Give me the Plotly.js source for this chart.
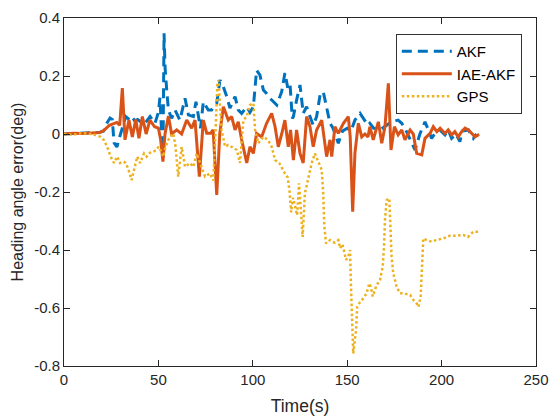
<!DOCTYPE html>
<html>
<head>
<meta charset="utf-8">
<script src="https://cdn.plot.ly/plotly-3.0.1.min.js"></script>
<style>html,body{margin:0;padding:0;background:#fff;}#chart{width:551px;height:416px;}</style>
</head>
<body>
<div id="chart"></div>
<script>
// ---- Data ----
var akfT = [0,5,10,15,19,21,22.5,24.4,25.6,26.5,28,29.5,31,32.7,34.5,36,37.5,39,41,42.9,45.6,48.2,50,50.8,51.6,52.4,53,53.5,54.4,55.3,57,58.8,61.4,64.1,65.9,68.5,69.9,71.2,72.3,73.8,76.4,78.2,80.9,82.6,84.4,86.2,87.9,90.6,92.3,94.1,96.8,98.5,100.3,102,103.8,105.6,107.3,109.1,110.9,112.7,115.3,117,118.5,119.7,120.9,121.5,123.2,125,126.7,128.5,130.3,132,133.8,135.6,137.3,139.1,140.9,142.5,145.3,147.5,150,152,154.1,156.8,159,161,162,164,167.4,170,173,177,178.9,181,184.1,185.9,188.5,191.2,193,194.7,196.5,198,199,201.8,203.5,205.3,207.5,209.7,211,214.2,216.8,218.5];
var akfV = [0,0.002,0.003,0.005,0.006,0.01,0.035,0.055,0.05,-0.03,-0.045,-0.01,0.02,0.06,0.05,0.06,0.045,0.05,0.04,0.037,0.06,0.037,0.075,0.125,0.02,-0.08,0.347,0.232,0.152,0.083,0.054,0.083,0.048,0.123,0.066,0.06,0.111,0.06,0.02,0.111,0.083,0.083,0.106,0.186,0.163,0.129,0.089,0.129,0.083,0.071,0.094,0.075,0.094,0.22,0.203,0.152,0.14,0.123,0.111,0.1,0.146,0.21,0.16,0.175,0.054,0.06,0.117,0.169,0.071,0.094,0.06,0.03,0.06,0.134,0.146,0.094,0.037,0.02,-0.032,0.01,0.02,0.01,0.048,0.071,0.048,0.03,0.037,0.02,0.014,0.025,0.04,0.048,0.037,0.014,-0.032,-0.055,0,0.042,0.014,-0.015,0.002,0.01,0.014,-0.003,0.014,-0.015,0,-0.026,0.01,0.014,-0.015,0];

var iaeT = [0,5,10,15,19,21,22.5,24,26,28,29.5,30.9,32.3,33.3,34.4,36.2,38,39.7,41.5,43.5,45.5,48,50,51.2,52.4,53.5,55.3,57,59.7,62.3,65,67.6,69.4,71.7,73.8,75.6,77.7,79,80.9,82.5,84.4,87,88.8,90.6,92.3,94.1,96.8,98.5,100.3,102,104.7,107.3,110,111.8,113.5,115.3,117,118.8,120,121.5,123.2,125,126.7,128.5,130.3,132,133.8,136.5,139.1,140.9,141.8,143.5,145.3,148,150.6,151.6,152.9,154.1,155.9,157.7,159.4,161,162,163.8,166.5,168.3,170,171.8,173.2,175,177,178.9,180.6,183.3,185,186.8,189.5,191.2,193.9,195.6,197.5,199.2,201.8,203.5,205.3,207,208.8,210.6,212.4,214.2,216,217.7,219.4,220];
var iaeV = [0,0.003,0.002,0.004,0.005,0.012,0.02,0.03,0.035,0.04,0.03,0.158,-0.02,0.01,0.048,-0.01,0.05,-0.015,0.06,0,0.048,0.025,0.02,-0.02,-0.095,0,0.062,0,0.014,0,0.048,0.02,0.048,-0.147,0.048,0.003,0.003,0.014,-0.21,0,0.094,0.048,0.06,0.014,0.042,-0.02,-0.1,-0.044,-0.067,0.002,-0.01,0.037,0.071,0.025,-0.044,0,0.048,-0.044,0.014,-0.09,0.014,-0.067,-0.1,0.06,0.025,-0.044,0.014,0.048,-0.078,-0.02,-0.078,0.025,0.002,0.037,0.06,-0.01,-0.268,-0.066,0.037,-0.01,0,-0.01,0.025,-0.02,0.042,-0.032,0.025,0.175,-0.055,0.025,-0.003,0.014,-0.02,0.014,0,-0.067,-0.072,-0.015,0.002,0.025,0.008,0.02,0.002,0.014,-0.003,0.008,-0.01,0.008,0.02,0.014,0.002,-0.01,-0.003,-0.002];

var gpsT = [0,5,10,15,19.4,21,22.9,24.7,26.5,28.2,29.7,31.5,32.7,34,35.8,37,38.8,40.3,42.4,43.8,45.5,47.3,49.1,50,51.5,52.6,53.5,55.3,57.9,59,60.5,62.3,64.1,66.7,68.5,70.3,72,74.7,77.3,79.1,80.5,81.2,81.8,82.6,83.5,85.3,87,89,91.5,93.2,95,96.8,98.5,100.3,101.2,102.9,105.6,108,110,111.8,114,117,118.5,119.5,120.3,121.3,122.5,123.5,124.5,125.5,126.4,127.6,129.4,131.2,132.9,134.5,136.5,137.3,137.9,138.8,140.9,141.8,143.5,145.3,146.2,147.5,149.4,150.6,151.5,151.9,152.4,153.2,154.7,155.3,156.8,158.5,160.3,161.7,162.5,163.5,165.6,167.4,168.8,169.5,170,170.9,172.3,173,173.5,174.4,176.2,178,180.5,183.3,185,186.5,187.7,188.9,189.6,190.3,192.1,194.7,197,200.9,204.4,208,211.5,214,216.8,219.4];
var gpsV = [0,-0.002,0.003,0,-0.01,-0.02,-0.044,-0.078,-0.1,-0.078,-0.1,-0.095,-0.1,-0.12,-0.159,-0.13,-0.078,-0.1,-0.067,-0.078,-0.065,-0.061,-0.055,-0.044,-0.06,-0.078,-0.05,-0.02,0.002,-0.04,-0.147,-0.044,-0.113,-0.1,-0.113,-0.067,-0.1,-0.147,-0.136,-0.16,0.048,0.17,0.186,0.12,0.014,-0.044,-0.038,-0.045,-0.055,-0.1,0.048,0.06,0.1,0.106,0.014,-0.032,-0.01,-0.02,-0.044,-0.09,-0.1,-0.136,-0.15,-0.2,-0.27,-0.22,-0.25,-0.28,-0.17,-0.28,-0.355,-0.205,-0.147,-0.1,-0.067,-0.09,-0.124,-0.205,-0.32,-0.377,-0.366,-0.37,-0.375,-0.366,-0.394,-0.38,-0.434,-0.423,-0.4,-0.503,-0.641,-0.757,-0.676,-0.596,-0.58,-0.567,-0.549,-0.515,-0.527,-0.56,-0.521,-0.503,-0.457,-0.389,-0.297,-0.228,-0.222,-0.331,-0.423,-0.48,-0.527,-0.549,-0.55,-0.555,-0.572,-0.58,-0.596,-0.561,-0.446,-0.36,-0.366,-0.371,-0.366,-0.36,-0.351,-0.351,-0.348,-0.355,-0.337,-0.337];

var xTicks = [0,50,100,150,200,250];
var xTickText = ['0','50','100','150','200','250'];
var yTicks = [-0.8,-0.6,-0.4,-0.2,0,0.2,0.4];
var yTickText = ['-0.8','-0.6','-0.4','-0.2','0','0.2','0.4'];

var FONT = 'Liberation Sans, Arial, Helvetica, sans-serif';
var AX = '#262626';

var traces = [
  {x: akfT, y: akfV, name: 'AKF', type: 'scatter', mode: 'lines',
   line: {color: '#0072BD', width: 3, dash: '10px,6px'}},
  {x: iaeT, y: iaeV, name: 'IAE-AKF', type: 'scatter', mode: 'lines',
   line: {color: '#D95319', width: 3}},
  {x: gpsT, y: gpsV, name: 'GPS', type: 'scatter', mode: 'lines',
   line: {color: '#EDB120', width: 2.5, dash: '2.5px,2.5px'}}
];

var layout = {
  width: 551, height: 416,
  margin: {l: 64, r: 15, t: 18, b: 50, pad: 0},
  paper_bgcolor: '#ffffff', plot_bgcolor: '#ffffff',
  font: {family: FONT, size: 15, color: AX},
  showlegend: true,
  legend: {x: 0.703, y: 0.954, xanchor: 'left', yanchor: 'top',
    bgcolor: '#ffffff', bordercolor: '#333333', borderwidth: 1,
    font: {family: FONT, size: 15, color: '#000'}, itemwidth: 50,
    tracegroupgap: 0},
  xaxis: {range: [0, 250], tickvals: xTicks, ticktext: xTickText,
    ticks: 'inside', ticklen: 6, tickwidth: 1, tickcolor: AX,
    showline: true, linecolor: AX, linewidth: 1, mirror: 'ticks',
    showgrid: false, zeroline: false,
    tickfont: {family: FONT, size: 15, color: AX},
    title: {text: 'Time(s)', font: {family: FONT, size: 17.5, color: AX}, standoff: 12}},
  yaxis: {range: [-0.8, 0.4], tickvals: yTicks, ticktext: yTickText,
    ticks: 'inside', ticklen: 6, tickwidth: 1, tickcolor: AX,
    showline: true, linecolor: AX, linewidth: 1, mirror: 'ticks',
    showgrid: false, zeroline: false,
    tickfont: {family: FONT, size: 15, color: AX},
    title: {text: 'Heading angle error(deg)', font: {family: FONT, size: 16, color: AX}, standoff: 6}}
};

Plotly.newPlot('chart', traces, layout, {displayModeBar: false, staticPlot: true});
</script>
</body>
</html>
